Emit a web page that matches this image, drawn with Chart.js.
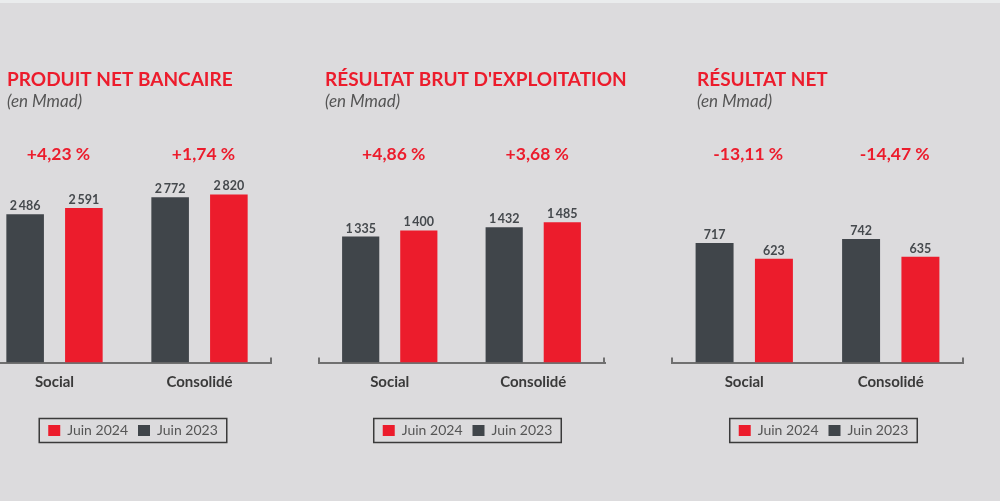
<!DOCTYPE html>
<html>
<head>
<meta charset="utf-8">
<script src="https://cdn.jsdelivr.net/npm/chart.js@4.4.1/dist/chart.umd.min.js"></script>
<style>
  html, body { margin: 0; padding: 0; }
  body { width: 1000px; height: 501px; background: #dcdbdd; position: relative; overflow: hidden; }
  .strip { position: absolute; left: 0; top: 0; width: 1000px; height: 3px; background: #eaeced; }
  canvas { position: absolute; top: 0; }
</style>
</head>
<body>
<div class="strip"></div>
<canvas id="c0" width="290" height="501" style="left:-18px"></canvas>
<canvas id="c1" width="337" height="501" style="left:318px"></canvas>
<canvas id="c2" width="293" height="501" style="left:671px"></canvas>

<script>
// data
var categories = ["Social", "Consolidé"];
var panelTitles = ["PRODUIT NET BANCAIRE", "RÉSULTAT BRUT D'EXPLOITATION", "RÉSULTAT NET"];
var juin2023 = [[2486, 2772], [1335, 1432], [717, 742]];
var juin2024 = [[2591, 2820], [1400, 1485], [623, 635]];
var variations = [["+4,23 %", "+1,74 %"], ["+4,86 %", "+3,68 %"], ["-13,11 %", "-14,47 %"]];
var yMax = [3230, 2040, 1156];

// styles
var RED = "#ec1c2c";
var DARK = "#40454a";
var titleX = [25, 7, 26];
var padRight = [0, 50, 0];

function fmt(v) {
	return String(v).replace(/\B(?=(\d{3})+(?!\d))/g, "\u2009");
}

var decorations = {
	id: "decorations",
	afterLayout: function (chart) {
		// legend sits a little right of the plot centre
		chart.legend.left += 6;
		chart.legend.right += 6;
	},
	afterDraw: function (chart) {
		var ctx = chart.ctx;
		var p = chart.options.plugins.decorations;
		var area = chart.chartArea;
		var x = chart.scales.x;
		ctx.save();

		// title + unit
		ctx.textAlign = "left";
		ctx.textBaseline = "alphabetic";
		ctx.fillStyle = RED;
		ctx.font = "bold 19px Lato";
		ctx.fillText(p.title, p.titleX, 86);
		ctx.fillStyle = "#555";
		ctx.font = "italic 17px Lato";
		ctx.fillText("(en Mmad)", p.titleX, 107);

		// variations above each group
		ctx.textAlign = "center";
		ctx.fillStyle = RED;
		ctx.font = "bold 17.5px Lato";
		p.variations.forEach(function (txt, i) {
			ctx.fillText(txt, x.getPixelForValue(i) + 4, 160);
		});

		// value labels
		ctx.fillStyle = "#45494d";
		ctx.font = "bold 12.5px Lato";
		chart.data.datasets.forEach(function (ds, di) {
			chart.getDatasetMeta(di).data.forEach(function (bar, i) {
				ctx.fillText(fmt(ds.data[i]), bar.x, bar.y - 4);
			});
		});

		// small end ticks on the axis
		ctx.strokeStyle = "#707070";
		ctx.lineWidth = 2;
		ctx.beginPath();
		ctx.moveTo(area.left + 1, area.bottom);
		ctx.lineTo(area.left + 1, area.bottom - 5);
		ctx.moveTo(area.right - 1, area.bottom);
		ctx.lineTo(area.right - 1, area.bottom - 5);
		ctx.stroke();

		// frame around legend
		var boxes = chart.legend.legendHitBoxes;
		if (boxes && boxes.length) {
			var l = Infinity, r = -Infinity, t = Infinity, b = -Infinity;
			boxes.forEach(function (h) {
				l = Math.min(l, h.left);
				r = Math.max(r, h.left + h.width);
				t = Math.min(t, h.top);
				b = Math.max(b, h.top + h.height);
			});
			var cy = (t + b) / 2;
			ctx.strokeStyle = "#3a3a3a";
			ctx.lineWidth = 1.5;
			ctx.strokeRect(l - 9, cy - 12, r - l + 18, 24);
		}
		ctx.restore();
	}
};

for (var k = 0; k < 3; k++) {
	var data = {
		labels: categories,
		datasets: [
			{ label: "Juin 2023", data: juin2023[k], backgroundColor: DARK },
			{ label: "Juin 2024", data: juin2024[k], backgroundColor: RED }
		]
	};

	var options = {
		responsive: false,
		animation: false,
		layout: { padding: { top: 170, bottom: 53.5, left: 0, right: padRight[k] } },
		datasets: { bar: { categoryPercentage: 0.81, barPercentage: 0.64 } },
		scales: {
			x: {
				grid: { display: false, drawTicks: false },
				border: { display: true, color: "#707070", width: 2 },
				ticks: { padding: 11, color: "#3a3a3a", font: { family: "Lato", size: 15, weight: "bold" } },
				afterFit: function (scale) { scale.height = 51; }
			},
			y: { display: false, min: 0, max: yMax[k] }
		},
		plugins: {
			legend: {
				position: "bottom",
				fullSize: false,
				reverse: true,
				labels: {
					boxWidth: 12,
					boxHeight: 11,
					padding: 10,
					color: "#555",
					font: { family: "Lato", size: 14 }
				}
			},
			tooltip: { enabled: false },
			decorations: { title: panelTitles[k], titleX: titleX[k], variations: variations[k] }
		}
	};

	new Chart(document.getElementById("c" + k), {
		type: "bar",
		data: data,
		options: options,
		plugins: [decorations]
	});
}
</script>
</body>
</html>
